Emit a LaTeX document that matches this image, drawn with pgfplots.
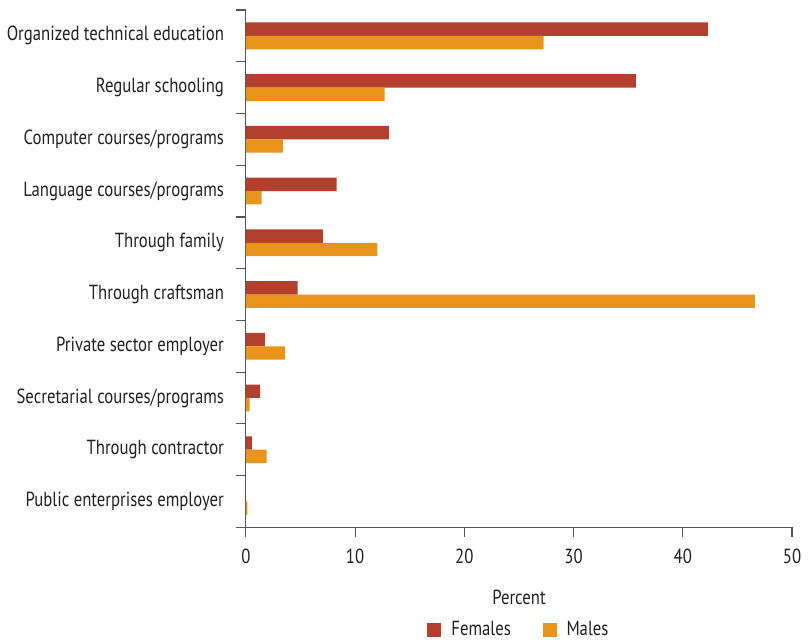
\documentclass[border=0pt]{standalone}
\usepackage{fontspec}
\setmainfont{PT Sans}[FakeStretch=0.82]
\usepackage{pgfplots}
\pgfplotsset{compat=1.18}
\definecolor{fem}{RGB}{179,64,45}
\definecolor{mal}{RGB}{232,147,26}
\definecolor{axgray}{RGB}{85,85,85}
\definecolor{txt}{RGB}{35,31,32}
\newcommand{\fs}{\fontsize{20.5}{24}\selectfont}
\begin{document}
\fs
\begin{tikzpicture}
\begin{axis}[
  scale only axis, width=549pt, height=520pt,
  xmin=0, xmax=50, ymin=-0.5, ymax=9.5, y dir=reverse,
  axis x line*=bottom, axis y line*=left,
  axis line style={axgray, line width=1.2pt},
  xtick={0,10,...,50},
  ytick={0,...,9},
  yticklabels={Organized technical education, Regular schooling, Computer courses/programs, Language courses/programs, Through family, Through craftsman, Private sector employer, Secretarial courses/programs, Through contractor, Public enterprises employer},
  minor ytick={-0.5,0.5,...,9.5},
  tick align=outside,
  major tick length=10pt, minor tick length=10pt,
  major y tick style={draw=none},
  minor y tick style={axgray, line width=1.2pt},
  major x tick style={axgray, line width=1.2pt},
  /pgf/number format/assume math mode=true,
  ticklabel style={font=\fs, text=txt},
  xticklabel style={yshift=-5pt},
  yticklabel style={xshift=-5pt},
  xlabel={Percent},
  xlabel style={font=\fs, text=txt, yshift=-12pt},
  legend style={at={(0.5,-0.174)}, anchor=north, draw=none, legend columns=2,
    font=\fs, text=txt,
    /tikz/every odd column/.append style={column sep=8pt},
    /tikz/every even column/.append style={column sep=30pt}},
  legend image code/.code={\fill[#1] (0pt,-7pt) rectangle (14pt,7pt);},
]
\addplot[xbar, bar width=0.26, bar shift=-0.13, fill=fem, draw=none] coordinates {
  (42.3,0) (35.7,1) (13.1,2) (8.3,3) (7.05,4) (4.75,5) (1.75,6) (1.3,7) (0.55,8) (0,9)};
\addplot[xbar, bar width=0.26, bar shift=0.13, fill=mal, draw=none] coordinates {
  (27.25,0) (12.7,1) (3.4,2) (1.45,3) (12.05,4) (46.6,5) (3.6,6) (0.35,7) (1.9,8) (0.15,9)};
\legend{Females, Males}
\end{axis}
\path (current axis.north west) ++(0,10pt);
\end{tikzpicture}
\end{document}
